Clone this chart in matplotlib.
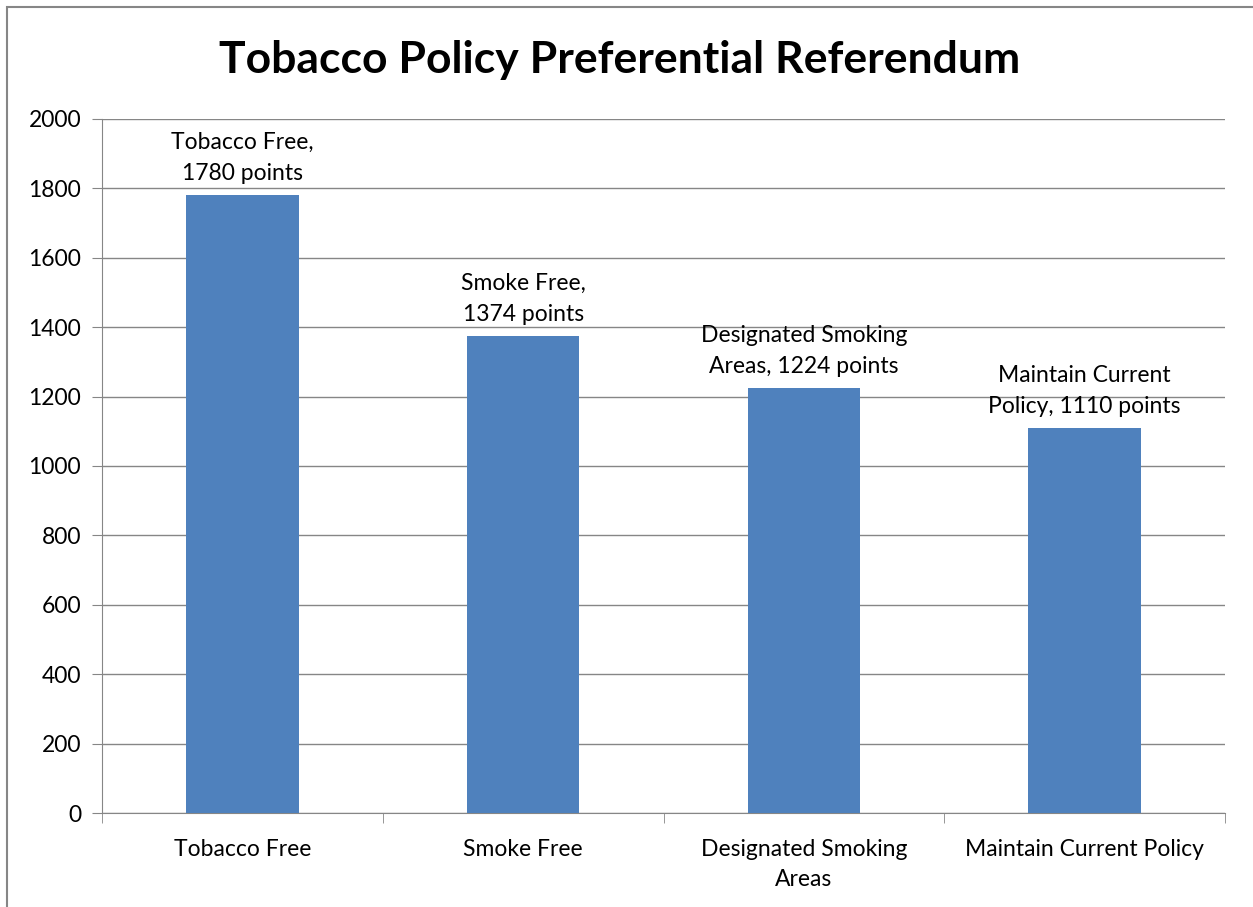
import matplotlib
matplotlib.use("Agg")
import matplotlib.pyplot as plt
from matplotlib.patches import Rectangle

categories = ["Tobacco Free", "Smoke Free", "Designated Smoking\nAreas", "Maintain Current Policy"]
points = [1780, 1374, 1224, 1110]
bar_labels = ["Tobacco Free,\n1780 points", "Smoke Free,\n1374 points",
              "Designated Smoking\nAreas, 1224 points", "Maintain Current\nPolicy, 1110 points"]
yticks = [0, 200, 400, 600, 800, 1000, 1200, 1400, 1600, 1800, 2000]

plt.rcParams['font.family'] = ['Lato', 'DejaVu Sans']

fig = plt.figure(figsize=(12.53, 9.07), dpi=100)
ax = fig.add_axes([102 / 1253, 1 - 813 / 907, 1123 / 1253, 694 / 907])

grid_col = "#868686"
fs = 16.5
x = list(range(len(categories)))
ax.bar(x, points, width=0.4, color="#4F81BD", zorder=3)
ax.set_xlim(-0.5, len(categories) - 0.5)
ax.set_ylim(0, 2000)
ax.set_yticks(yticks)
ax.yaxis.grid(True, color=grid_col, linewidth=1, zorder=0)

for i, (v, lab) in enumerate(zip(points, bar_labels)):
    ax.annotate(lab, (i, v), xytext=(0, 8), textcoords="offset points",
                ha="center", va="bottom", fontsize=fs, linespacing=1.6, zorder=4)

for s in ["top", "right"]:
    ax.spines[s].set_visible(False)
for s in ["left", "bottom"]:
    ax.spines[s].set_color(grid_col)

ax.set_xticks(x)
ax.set_xticklabels(categories, fontsize=fs, linespacing=1.5)
ax.tick_params(axis="x", length=0, pad=19)
ax.set_xticks([i + 0.5 for i in range(-1, len(categories))], minor=True)
ax.tick_params(axis="x", which="minor", length=7, color=grid_col, direction="out")
ax.tick_params(axis="y", length=7, color=grid_col, labelsize=fs, pad=8)

fig.text(620 / 1253, 1 - 60 / 907, "Tobacco Policy Preferential Referendum",
         ha="center", va="center", fontsize=32, fontweight="bold")

fig.patches.append(Rectangle((7 / 1253, -0.01), 1.1, 1 - 7 / 907 + 0.01, transform=fig.transFigure,
                             fill=False, edgecolor=grid_col, linewidth=1.5))

fig.savefig("out.png", dpi=100)
